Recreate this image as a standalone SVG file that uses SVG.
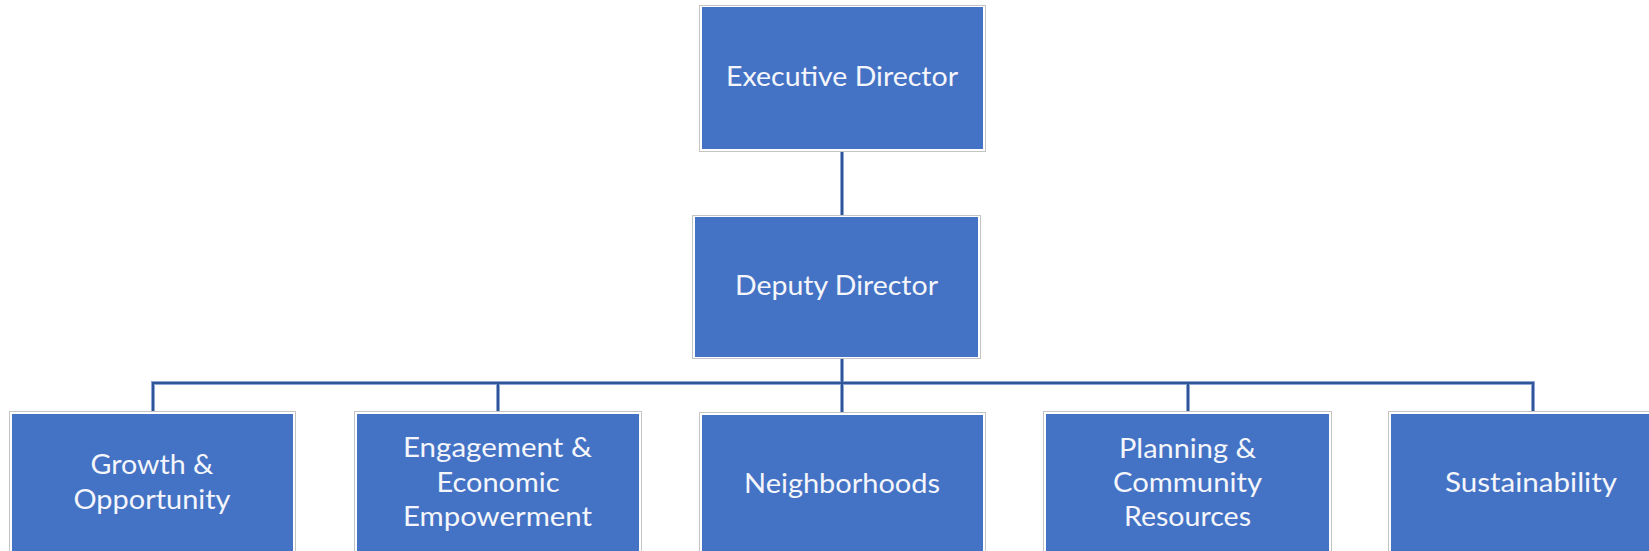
<svg xmlns="http://www.w3.org/2000/svg" width="1649" height="551" viewBox="0 0 1649 551">
<style>
.frame{fill:#ffffff;stroke:#c4c4c4;stroke-width:1}
.box{fill:#4472C4}
.lbl{font-family:Lato,"Open Sans","Liberation Sans",sans-serif;font-size:27px;fill:#f4f6fb;text-anchor:middle}
.halo{fill:none;stroke:#8EA6D6;stroke-width:4}
.ln{fill:none;stroke:#2F5597;stroke-width:2}
</style>
<rect x="0" y="0" width="1649" height="551" fill="#ffffff"/>
<g id="connectors">
<path class="halo" d="M842 152V215M842 359V412M153 411V383H1533V411M498 383V411M1188 383V411"/>
<path class="ln" d="M842 152V215M842 359V412M153 411V383H1533V411M498 383V411M1188 383V411"/>
</g>
<g id="executive-director">
<rect class="frame" x="699.5" y="5.5" width="286" height="146"/>
<rect class="box" x="702" y="7" width="281" height="142"/>
<text class="lbl" x="842" y="86" textLength="232" lengthAdjust="spacingAndGlyphs">Executive Director</text>
</g>
<g id="deputy-director">
<rect class="frame" x="692.5" y="215.5" width="288" height="143"/>
<rect class="box" x="695" y="217" width="283" height="140"/>
<text class="lbl" x="836.5" y="295" textLength="203" lengthAdjust="spacingAndGlyphs">Deputy Director</text>
</g>
<g id="growth-opportunity">
<rect class="frame" x="9.5" y="411.5" width="286" height="150"/>
<rect class="box" x="12" y="414" width="281" height="150"/>
<text class="lbl" x="152" y="474" textLength="123" lengthAdjust="spacingAndGlyphs">Growth &amp;</text>
<text class="lbl" x="152" y="509" textLength="157" lengthAdjust="spacingAndGlyphs">Opportunity</text>
</g>
<g id="engagement-economic-empowerment">
<rect class="frame" x="354.5" y="411.5" width="287" height="150"/>
<rect class="box" x="357" y="414" width="282" height="150"/>
<text class="lbl" x="497.5" y="457" textLength="189" lengthAdjust="spacingAndGlyphs">Engagement &amp;</text>
<text class="lbl" x="498" y="492" textLength="123" lengthAdjust="spacingAndGlyphs">Economic</text>
<text class="lbl" x="497.5" y="526" textLength="189" lengthAdjust="spacingAndGlyphs">Empowerment</text>
</g>
<g id="neighborhoods">
<rect class="frame" x="699.5" y="412.5" width="286" height="150"/>
<rect class="box" x="702" y="415" width="281" height="150"/>
<text class="lbl" x="842" y="493" textLength="196" lengthAdjust="spacingAndGlyphs">Neighborhoods</text>
</g>
<g id="planning-community-resources">
<rect class="frame" x="1043.5" y="411.5" width="288" height="150"/>
<rect class="box" x="1046" y="414" width="283" height="150"/>
<text class="lbl" x="1187.5" y="458" textLength="137" lengthAdjust="spacingAndGlyphs">Planning &amp;</text>
<text class="lbl" x="1187.5" y="492" textLength="149" lengthAdjust="spacingAndGlyphs">Community</text>
<text class="lbl" x="1187.5" y="526" textLength="127" lengthAdjust="spacingAndGlyphs">Resources</text>
</g>
<g id="sustainability">
<rect class="frame" x="1388.5" y="411.5" width="288" height="150"/>
<rect class="box" x="1391" y="414" width="283" height="150"/>
<text class="lbl" x="1531" y="492" textLength="172" lengthAdjust="spacingAndGlyphs">Sustainability</text>
</g>
</svg>
